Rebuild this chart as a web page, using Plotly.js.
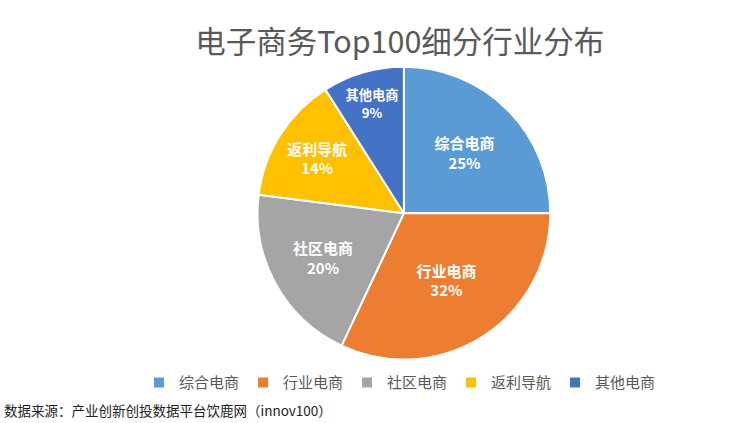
<!DOCTYPE html>
<html><head><meta charset="utf-8">
<script src="https://cdn.plot.ly/plotly-3.0.1.min.js"></script>
<style>html,body{margin:0;padding:0;background:#fff;}#chart{width:750px;height:423px;}</style>
</head><body><div id="chart"></div>
<script>
const categories = ["综合电商", "行业电商", "社区电商", "返利导航", "其他电商"];
const shares = [25, 32, 20, 14, 9];
const colors = ["#5B9BD5", "#ED7D31", "#A5A5A5", "#FFC000", "#4472C4"];
const titleText = "电子商务Top100细分行业分布";
const sourceText = "数据来源：产业创新创投数据平台饮鹿网（innov100）";

const font = '"Noto Sans CJK SC", "Noto Sans", sans-serif';
const data = [{
  type: 'pie',
  labels: categories,
  values: shares,
  sort: false,
  direction: 'clockwise',
  rotation: 0,
  marker: {colors: colors, line: {color: '#ffffff', width: 2}},
  texttemplate: '<b>%{label}</b><br><b>%{value}%</b>',
  textposition: 'inside',
  insidetextorientation: 'horizontal',
  textfont: {family: font, size: 15, color: '#ffffff'},
  hoverinfo: 'label+percent',
  domain: {x: [0.342, 0.735], y: [0.15, 0.842]}
}];
const layout = {
  width: 750, height: 423,
  margin: {l: 0, r: 0, t: 0, b: 0},
  paper_bgcolor: '#ffffff',
  font: {family: font, color: '#595959'},
  title: {text: titleText, x: 0.533, xanchor: 'center', y: 0.9, yanchor: 'middle',
          font: {family: font, size: 30.5, color: '#595959'}},
  showlegend: true,
  legend: {orientation: 'h', x: 0.532, xanchor: 'center', y: 0.095, yanchor: 'middle',
           font: {family: font, size: 15, color: '#595959'}, itemwidth: 30, tracegroupgap: 0,
           entrywidth: 59, entrywidthmode: 'pixels'},
  annotations: [{
    text: sourceText, xref: 'paper', yref: 'paper', x: 0.003, y: 0.031,
    xanchor: 'left', yanchor: 'middle', showarrow: false,
    font: {family: font, size: 13.5, color: '#222222'}
  }]
};
Plotly.newPlot('chart', data, layout, {displayModeBar: false});
</script></body></html>
